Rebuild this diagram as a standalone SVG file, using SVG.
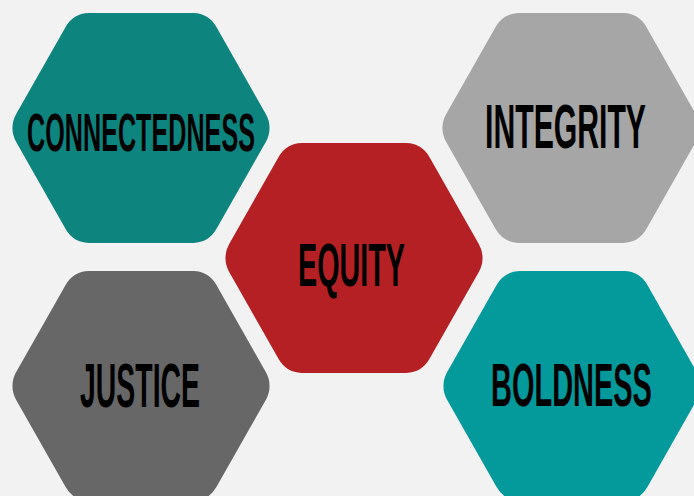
<svg xmlns="http://www.w3.org/2000/svg" width="694" height="496" viewBox="0 0 694 496">
<defs>
<style>
.lbl{font-family:"Liberation Sans",Arial,sans-serif;font-weight:bold;fill:#000;text-anchor:middle}
</style>
<path id="hex" d="M-52.4,-115 L52.4,-115 A27.7,27.7 0 0 1 75.4,-101.1 L124.8,-13.9 A27.7,27.7 0 0 1 124.8,13.9 L75.4,101.1 A27.7,27.7 0 0 1 52.4,115 L-52.4,115 A27.7,27.7 0 0 1 -75.4,101.1 L-124.8,13.9 A27.7,27.7 0 0 1 -124.8,-13.9 L-75.4,-101.1 A27.7,27.7 0 0 1 -52.4,-115 Z"/>
</defs>
<rect width="694" height="496" fill="#F2F2F2"/>
<g id="connectedness">
<use href="#hex" transform="translate(141,128)" fill="#0E847F"/>
<text class="lbl" x="0" y="0" font-size="53" transform="translate(141,151) scale(0.475,1)">CONNECTEDNESS</text>
</g>
<g id="equity">
<use href="#hex" transform="translate(354,258)" fill="#B52025"/>
<text class="lbl" x="0" y="0" font-size="61" transform="translate(351.5,286) scale(0.471,1)">EQUITY</text>
</g>
<g id="integrity">
<use href="#hex" transform="translate(571,128)" fill="#A6A6A6"/>
<text class="lbl" x="0" y="0" font-size="63" transform="translate(565.5,148) scale(0.479,1)">INTEGRITY</text>
</g>
<g id="justice">
<use href="#hex" transform="translate(141,386)" fill="#666766"/>
<text class="lbl" x="0" y="0" font-size="63" transform="translate(140,407) scale(0.451,1)">JUSTICE</text>
</g>
<g id="boldness">
<use href="#hex" transform="translate(572,386)" fill="#04999B"/>
<text class="lbl" x="0" y="0" font-size="62" transform="translate(571.5,406) scale(0.467,1)">BOLDNESS</text>
</g>
<g id="connectors"/>
</svg>
